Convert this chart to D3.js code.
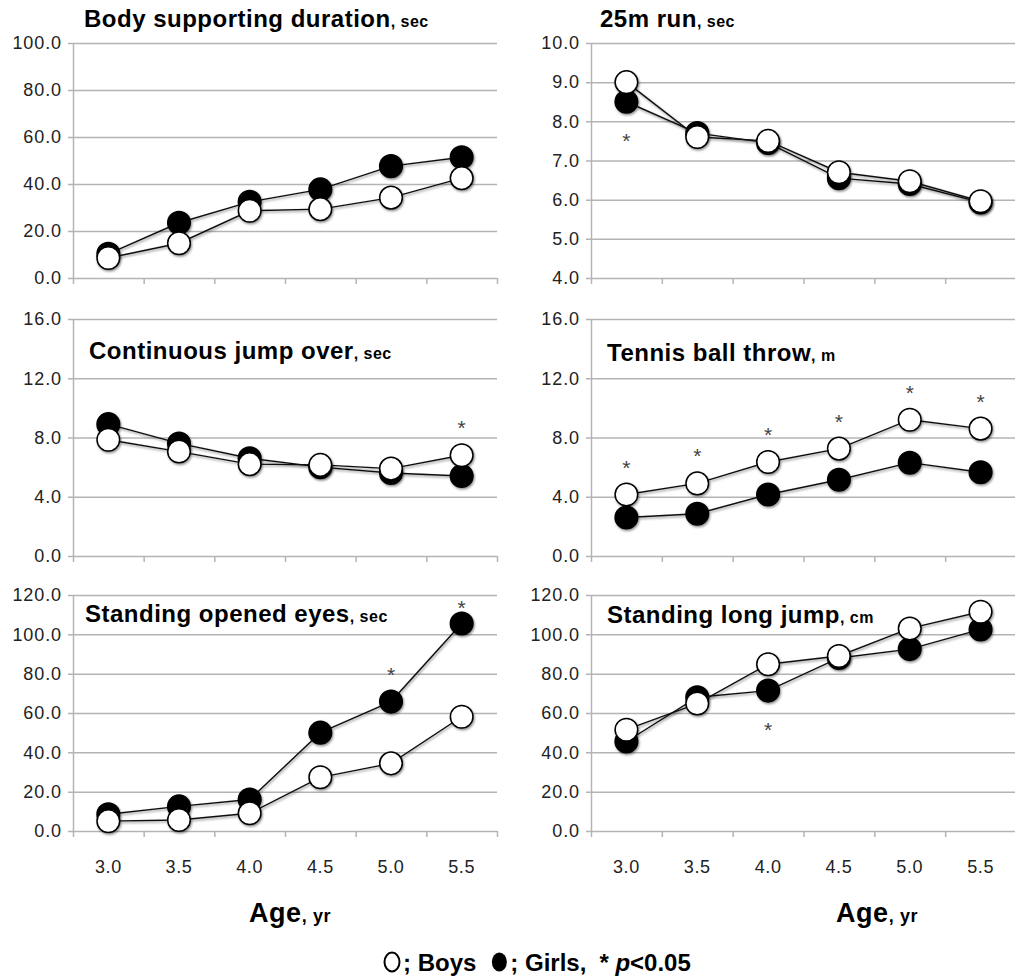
<!DOCTYPE html>
<html>
<head>
<meta charset="utf-8">
<script src="https://cdn.jsdelivr.net/npm/d3@7"></script>
<style>
    body { margin: 0; background: #fff; }
    text { font-family: "Liberation Sans", Arial, Helvetica, sans-serif; }
</style>
</head>
<body>
<script>
//age groups on the x axis
var ages = ["3.0", "3.5", "4.0", "4.5", "5.0", "5.5"];

//panel titles and units
var titles = ["Body supporting duration", "25m run", "Continuous jump over",
    "Tennis ball throw", "Standing opened eyes", "Standing long jump"];
var units = ["sec", "sec", "sec", "m", "sec", "cm"];

//series values (girls = filled, boys = open)
var bodyGirls = [10.3, 23.5, 32.4, 37.7, 47.6, 51.4];
var bodyBoys = [8.5, 14.8, 28.6, 29.3, 34.2, 42.5];
var runGirls = [8.5, 7.7, 7.45, 6.55, 6.4, 5.93];
var runBoys = [9.0, 7.6, 7.5, 6.7, 6.47, 5.96];
var jumpGirls = [8.9, 7.6, 6.6, 6.0, 5.6, 5.4];
var jumpBoys = [7.85, 7.05, 6.2, 6.15, 5.9, 6.8];
var throwGirls = [2.6, 2.85, 4.15, 5.15, 6.3, 5.65];
var throwBoys = [4.15, 4.9, 6.35, 7.25, 9.2, 8.6];
var standGirls = [8.5, 12.5, 16.0, 50.0, 65.8, 105.5];
var standBoys = [5.0, 5.6, 9.0, 27.3, 34.4, 58.1];
var longGirls = [45.5, 68.0, 71.4, 88.0, 92.5, 102.5];
var longBoys = [51.5, 64.8, 84.8, 89.0, 103.0, 111.5];

//y tick values per panel
var bodyTicks = [0, 20, 40, 60, 80, 100];
var runTicks = [4, 5, 6, 7, 8, 9, 10];
var jumpTicks = [0, 4, 8, 12, 16];
var throwTicks = [0, 4, 8, 12, 16];
var standTicks = [0, 20, 40, 60, 80, 100, 120];
var longTicks = [0, 20, 40, 60, 80, 100, 120];

//age indexes with p<0.05 and where the star sits
var bodyStars = [];
var runStars = [0];
var jumpStars = [5];
var throwStars = [0, 1, 2, 3, 4, 5];
var standStars = [4, 5];
var longStars = [2];
var starSides = ["above", "below", "above", "above", "above", "below"];

var girls = [bodyGirls, runGirls, jumpGirls, throwGirls, standGirls, longGirls];
var boys = [bodyBoys, runBoys, jumpBoys, throwBoys, standBoys, longBoys];
var ticks = [bodyTicks, runTicks, jumpTicks, throwTicks, standTicks, longTicks];
var stars = [bodyStars, runStars, jumpStars, throwStars, standStars, longStars];

//frame layout
var cols = [[73, 497], [591, 1016]];
var rows = [[43, 278], [319, 556], [595, 831]];
var titlePos = [[84, 27], [600, 27], [89, 359], [607, 361], [85, 622], [607, 623]];
var gridColor = "#b4b4b4";

var svg = d3.select("body")
    .append("svg")
    .attr("width", 1015)
    .attr("height", 976);

//soft shadow under markers like the original spreadsheet chart
var filter = svg.append("defs").append("filter")
    .attr("id", "shadow")
    .attr("x", "-30%").attr("y", "-30%")
    .attr("width", "160%").attr("height", "160%");
filter.append("feDropShadow")
    .attr("dx", 1).attr("dy", 1.5)
    .attr("stdDeviation", 1.3)
    .attr("flood-color", "#000")
    .attr("flood-opacity", 0.45);

titles.forEach(function (title, i) {
    var col = cols[i % 2],
        row = rows[Math.floor(i / 2)];

    var x = d3.scaleBand()
        .domain(ages)
        .range(col);
    var bw = x.bandwidth();

    var yt = ticks[i];
    var y = d3.scaleLinear()
        .domain([yt[0], yt[yt.length - 1]])
        .range([row[1], row[0]]);

    var panel = svg.append("g").attr("class", "panel");

    //gridlines and y labels
    var yAxis = panel.append("g")
        .attr("transform", "translate(" + col[0] + ",0)")
        .call(d3.axisLeft(y)
            .tickValues(yt)
            .tickSizeInner(-(col[1] - col[0]))
            .tickSizeOuter(0)
            .tickPadding(11)
            .tickFormat(d3.format(".1f")));
    yAxis.selectAll(".tick line")
        .attr("x1", -5)
        .attr("stroke", gridColor)
        .attr("stroke-width", 1.5);
    yAxis.select(".domain")
        .attr("stroke", gridColor)
        .attr("stroke-width", 1.5);
    yAxis.selectAll(".tick text")
        .attr("fill", "#222")
        .style("font-size", "18px")
        .style("letter-spacing", "0.9px");

    //tick marks between age groups
    var bounds = ages.map(function (a) { return x(a); }).concat([col[1]]);
    panel.selectAll(".xtick")
        .data(bounds)
        .enter()
        .append("line")
        .attr("class", "xtick")
        .attr("x1", function (d) { return d + 0.5; })
        .attr("x2", function (d) { return d + 0.5; })
        .attr("y1", row[1])
        .attr("y2", row[1] + 6)
        .attr("stroke", gridColor)
        .attr("stroke-width", 1.5);

    //age labels on the bottom row only
    if (i >= 4) {
        var xAxis = panel.append("g")
            .attr("transform", "translate(0," + row[1] + ")")
            .call(d3.axisBottom(x).tickSize(0).tickPadding(29));
        xAxis.select(".domain").remove();
        xAxis.selectAll(".tick text")
            .attr("fill", "#222")
            .style("font-size", "18px")
            .style("letter-spacing", "0.6px");
    }

    //panel title
    var t = panel.append("text")
        .attr("x", titlePos[i][0])
        .attr("y", titlePos[i][1])
        .style("font-size", "24px")
        .style("font-weight", "bold")
        .style("letter-spacing", "0.5px")
        .text(title);
    t.append("tspan")
        .style("font-size", "16px")
        .text(", " + units[i]);

    var line = d3.line()
        .x(function (d, j) { return x(ages[j]) + bw / 2; })
        .y(function (d) { return y(d); });

    //girls first, boys drawn on top
    [[girls[i], "#000"], [boys[i], "#fff"]].forEach(function (s) {
        var g = panel.append("g").attr("filter", "url(#shadow)");
        g.append("path")
            .datum(s[0])
            .attr("d", line)
            .attr("fill", "none")
            .attr("stroke", "#111")
            .attr("stroke-width", 1.4);
        g.selectAll("circle")
            .data(s[0])
            .enter()
            .append("circle")
            .attr("cx", function (d, j) { return x(ages[j]) + bw / 2; })
            .attr("cy", function (d) { return y(d); })
            .attr("r", 11.3)
            .attr("fill", s[1])
            .attr("stroke", "#000")
            .attr("stroke-width", 1.5);
    });

    //significance stars
    panel.selectAll(".star")
        .data(stars[i])
        .enter()
        .append("text")
        .attr("class", "star")
        .attr("text-anchor", "middle")
        .attr("x", function (j) { return x(ages[j]) + bw / 2; })
        .attr("y", function (j) {
            var a = y(girls[i][j]), b = y(boys[i][j]), c;
            if (starSides[i] === "above") {
                c = Math.max(Math.min(a, b) - 32, row[0] + 8);
            } else {
                c = Math.max(a, b) + 34;
            }
            return c + 12;
        })
        .attr("fill", "#444")
        .style("font-size", "21px")
        .text("*");
});

//x axis titles
[[290, 922], [877, 922]].forEach(function (p) {
    var a = svg.append("text")
        .attr("x", p[0])
        .attr("y", p[1])
        .attr("text-anchor", "middle")
        .style("font-size", "27px")
        .style("font-weight", "bold")
        .style("letter-spacing", "0.6px")
        .text("Age");
    a.append("tspan")
        .style("font-size", "18px")
        .text(", yr");
});

//legend
var legend = svg.append("g").attr("class", "legend");
var lx = 384, ly = 971;
legend.append("ellipse")
    .attr("cx", lx + 8).attr("cy", ly - 9)
    .attr("rx", 7.5).attr("ry", 9.5)
    .attr("fill", "#fff").attr("stroke", "#000").attr("stroke-width", 2);
var boysText = legend.append("text")
    .attr("x", lx + 19).attr("y", ly)
    .style("font-size", "24px").style("font-weight", "bold")
    .text("; Boys");
lx = lx + 19 + boysText.node().getComputedTextLength() + 15;
legend.append("ellipse")
    .attr("cx", lx + 8).attr("cy", ly - 9)
    .attr("rx", 7.5).attr("ry", 9.5)
    .attr("fill", "#000");
var girlsText = legend.append("text")
    .attr("x", lx + 19).attr("y", ly)
    .style("font-size", "24px").style("font-weight", "bold")
    .text("; Girls,");
lx = lx + 19 + girlsText.node().getComputedTextLength() + 13;
var pText = legend.append("text")
    .attr("x", lx).attr("y", ly)
    .style("font-size", "24px").style("font-weight", "bold")
    .text("* ");
pText.append("tspan").style("font-style", "italic").text("p");
pText.append("tspan").text("<0.05");
</script>
</body>
</html>
